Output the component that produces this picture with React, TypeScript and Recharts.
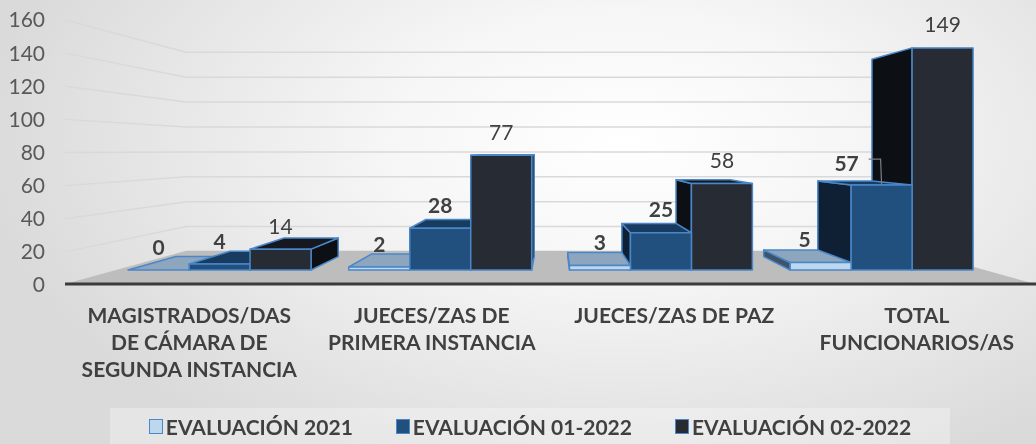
import React from "react";
import { BarChart, Bar, XAxis, YAxis, CartesianGrid, LabelList } from "recharts";

const categories = [
  "MAGISTRADOS/DAS DE CÁMARA DE SEGUNDA INSTANCIA",
  "JUECES/ZAS DE PRIMERA INSTANCIA",
  "JUECES/ZAS DE PAZ",
  "TOTAL FUNCIONARIOS/AS",
];
const categoryLines = [
  ["MAGISTRADOS/DAS", "DE CÁMARA DE", "SEGUNDA INSTANCIA"],
  ["JUECES/ZAS DE", "PRIMERA INSTANCIA"],
  ["JUECES/ZAS DE PAZ"],
  ["TOTAL", "FUNCIONARIOS/AS"],
];
const seriesNames = ["EVALUACIÓN 2021", "EVALUACIÓN 01-2022", "EVALUACIÓN 02-2022"];
const eval2021 = [0, 2, 3, 5];
const eval012022 = [4, 28, 25, 57];
const eval022022 = [14, 77, 58, 149];
const yTicks = [0, 20, 40, 60, 80, 100, 120, 140, 160];

const seriesKeys = ["s1", "s2", "s3"];
const data = categories.map((name, i) => ({
  name,
  s1: eval2021[i],
  s2: eval012022[i],
  s3: eval022022[i],
}));

// layout / perspective
const W = 1036;
const H = 444;
const PLOT_TOP = 20;
const PLOT_BOTTOM = 285;
const PLOT_LEFT = 65;
const PLOT_RIGHT = 1035;
const VP = { x: 554, y: 150 };
const FX = 0.91;
const FY = 0.9;
const BASE_Y = 270;
const BAR_DEPTH = 0.888;
const FLOOR_DEPTH = 0.752;

const FONT = "Lato, 'Open Sans', sans-serif";
const TEXT = "#404040";
const EDGE = "#4a86c8";
const faces = [
  { front: "#bdd7ee", top: "#8ea6bd", side: "#3f5266" },
  { front: "#22507e", top: "#173c60", side: "#0f2034" },
  { front: "#262b34", top: "#15191f", side: "#0c0f14" },
];

type Pt = { x: number; y: number };
const frontX = (x: number) => VP.x + FX * (x - VP.x);
const frontY = (y: number) => BASE_Y - FY * (PLOT_BOTTOM - y);
const back = (p: Pt, k: number): Pt => ({ x: VP.x + k * (p.x - VP.x), y: VP.y + k * (p.y - VP.y) });
const pts = (list: Pt[]) => list.map((p) => `${p.x},${p.y}`).join(" ");

function Box3D(props: any) {
  const { x, y, width, height, series, draw, side } = props;
  if (!draw || x == null) return null;
  const xl = frontX(x);
  const xr = frontX(x + width);
  const cx = (xl + xr) / 2;
  if (side === "left" && cx > VP.x) return null;
  if (side === "right" && cx <= VP.x) return null;
  const yt = frontY(y);
  const yb = frontY(y + height);
  const fTL = { x: xl, y: yt };
  const fTR = { x: xr, y: yt };
  const fBL = { x: xl, y: yb };
  const fBR = { x: xr, y: yb };
  const bTL = back(fTL, BAR_DEPTH);
  const bTR = back(fTR, BAR_DEPTH);
  const bBL = back(fBL, BAR_DEPTH);
  const bBR = back(fBR, BAR_DEPTH);
  const c = faces[series];
  const common = { stroke: EDGE, strokeWidth: 1.5, strokeLinejoin: "round" as const };
  return (
    <g>
      {xr < VP.x && <polygon points={pts([fTR, bTR, bBR, fBR])} fill={c.side} {...common} />}
      {xl > VP.x && <polygon points={pts([fTL, bTL, bBL, fBL])} fill={c.side} {...common} />}
      {yt > VP.y && <polygon points={pts([fTL, fTR, bTR, bTL])} fill={c.top} {...common} />}
      {yb - yt > 0.5 && <rect x={xl} y={yt} width={xr - xl} height={yb - yt} fill={c.front} {...common} />}
    </g>
  );
}

function WallLine(props: any) {
  const { x1, x2, y1 } = props;
  if (Math.abs(y1 - PLOT_BOTTOM) < 1) {
    const yf = y1 - 1;
    const a = { x: x1, y: yf };
    const b = { x: x2, y: yf };
    return (
      <g>
        <polygon points={pts([a, b, back(b, FLOOR_DEPTH), back(a, FLOOR_DEPTH)])} fill="#bdbdbd" />
        <line x1={x1} x2={x2 + 1} y1={yf} y2={yf} stroke="#3b3b3b" strokeWidth={3} />
      </g>
    );
  }
  const p = { x: x1, y: y1 };
  const q = { x: x2, y: y1 };
  return (
    <polyline
      points={pts([p, back(p, FLOOR_DEPTH), back(q, FLOOR_DEPTH)])}
      fill="none"
      stroke="#d9d9d9"
      strokeWidth={1.5}
    />
  );
}

function CategoryTick(props: any) {
  const { x, y, payload } = props;
  const idx = categories.indexOf(payload.value);
  const lines = categoryLines[idx] || [];
  return (
    <g>
      {lines.map((l, i) => (
        <text
          key={i}
          x={x + 3}
          y={y + 29 + i * 27}
          textAnchor="middle"
          dominantBaseline="central"
          fontFamily={FONT}
          fontSize={21}
          fontWeight={700}
          fill={TEXT}
        >
          {l}
        </text>
      ))}
    </g>
  );
}

function ValueLabel(props: any) {
  const vb = props.viewBox ?? props;
  const { x, y, width } = vb;
  const { value, index, series } = props;
  if (x == null) return null;
  const cx = frontX(x + width / 2);
  const top = frontY(y);
  const textProps = {
    textAnchor: "middle" as const,
    dominantBaseline: "central" as const,
    fontFamily: FONT,
    fontSize: 21,
    fontWeight: series < 2 ? 700 : 400,
    fill: TEXT,
  };
  // last group: labels pushed left, clear of the taller boxes
  if (series === 1 && index === 3) {
    const lx = cx - 35;
    const ly = top - 23;
    return (
      <g>
        <polyline
          points={`${lx + 22},${ly - 3} ${cx - 1},${ly - 3} ${cx},${top}`}
          fill="none"
          stroke="#7f7f7f"
          strokeWidth={1.2}
        />
        <text x={lx} y={ly} {...textProps}>
          {value}
        </text>
      </g>
    );
  }
  const shift = series === 0 && index === 3 ? -16 : 0;
  return (
    <text x={cx + shift} y={top - 24} {...textProps}>
      {value}
    </text>
  );
}

function Layer({ base = false, side, only, labels = false }: any) {
  const margin = base
    ? { top: PLOT_TOP, right: W - PLOT_RIGHT, left: 0, bottom: 0 }
    : { top: PLOT_TOP, right: W - PLOT_RIGHT, left: PLOT_LEFT, bottom: H - PLOT_BOTTOM };
  return (
    <div style={{ position: "absolute", left: 0, top: 0 }}>
      <BarChart width={W} height={H} data={data} margin={margin} barCategoryGap={21} barGap={0}>
        {base && <CartesianGrid vertical={false} horizontal={(p: any) => <WallLine key={p.key} {...p} />} />}
        <XAxis
          dataKey="name"
          hide={!base}
          height={H - PLOT_BOTTOM}
          tickLine={false}
          axisLine={false}
          tickSize={0}
          tickMargin={0}
          interval={0}
          tick={(p: any) => <CategoryTick {...p} />}
        />
        <YAxis
          domain={[0, 160]}
          ticks={yTicks}
          hide={!base}
          width={PLOT_LEFT}
          tickLine={false}
          axisLine={false}
          tickSize={0}
          tickMargin={20}
          tick={{ fontFamily: FONT, fontSize: 21, fill: "#595959" }}
        />
        {seriesKeys.map((key, k) => (
          <Bar
            key={key}
            dataKey={key}
            name={seriesNames[k]}
            isAnimationActive={false}
            shape={(p: any) => <Box3D {...p} series={k} draw={only.includes(k)} side={side} />}
          >
            {labels && <LabelList dataKey={key} content={(p: any) => <ValueLabel {...p} series={k} />} />}
          </Bar>
        ))}
      </BarChart>
    </div>
  );
}

function LegendBox() {
  return (
    <div
      style={{
        position: "absolute",
        left: 110,
        top: 408,
        width: 840,
        height: 36,
        background: "rgba(255,255,255,0.3)",
        display: "flex",
        alignItems: "center",
        justifyContent: "center",
        gap: 43,
        fontFamily: FONT,
        fontSize: 21,
        fontWeight: 700,
        color: TEXT,
      }}
    >
      {seriesNames.map((n, k) => (
        <div key={n} style={{ display: "flex", alignItems: "center", gap: 3 }}>
          <div
            style={{
              width: 12,
              height: 13,
              background: faces[k].front,
              border: `1.5px solid ${EDGE}`,
            }}
          />
          <span>{n}</span>
        </div>
      ))}
    </div>
  );
}

export default function App() {
  return (
    <div
      style={{
        position: "fixed",
        left: 0,
        top: 0,
        width: W,
        height: H,
        overflow: "hidden",
        background:
          "radial-gradient(ellipse 65% 85% at 60% 32%, #ffffff 0%, #f6f6f6 35%, #dadada 95%)",
      }}
    >
      <Layer base side="left" only={[0, 1, 2]} />
      <Layer side="right" only={[2]} />
      <Layer side="right" only={[1]} />
      <Layer side="right" only={[0]} labels />
      <LegendBox />
    </div>
  );
}
